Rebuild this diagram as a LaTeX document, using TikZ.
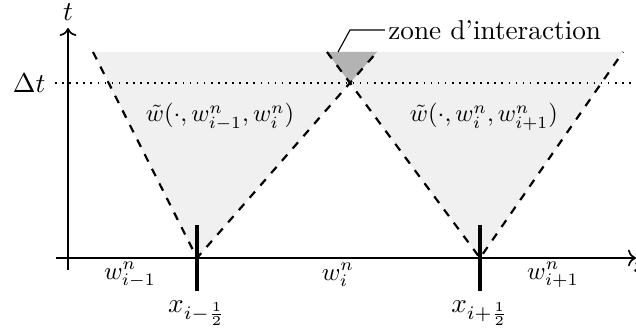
\documentclass[tikz,border=0pt]{standalone}
\usepackage{amsmath,amssymb}
\usetikzlibrary{arrows.meta,positioning,calc}
\definecolor{fanlight}{HTML}{F0F0F0}
\definecolor{zonedark}{HTML}{B3B3B3}
\tikzset{
  axisline/.style={->, semithick},
  charline/.style={dashed, thick},
  ifaceline/.style={very thick},
  levelline/.style={dotted, semithick},
  fanfill/.style={fill=fanlight},
  zonefill/.style={fill=zonedark},
  leader/.style={thin},
  statelab/.style={scale=0.92},
  fanlab/.style={scale=0.9}
}

\begin{document}
\begin{tikzpicture}[x=0.0129cm, y=0.0129cm]
    \useasboundingbox (-68,-78) rectangle (568,258);
    % sommets et bords des eventails
    \coordinate (apexl) at (129,0);
    \coordinate (apexr) at (412,0);
    \coordinate (ll) at (25,206);
    \coordinate (lr) at (309,206);
    \coordinate (rl) at (259,206);
    \coordinate (rr) at (555,206);
    \coordinate (cross) at (intersection of apexl--lr and apexr--rl);
    \fill[fanfill] (ll) -- (apexl) -- (lr) -- cycle;
    \fill[fanfill] (rl) -- (apexr) -- (rr) -- cycle;
    \fill[zonefill] (rl) -- (cross) -- (lr) -- cycle;
    % axes
    \coordinate (xstart) at (-12,0);
    \coordinate (xend) at (568,0);
    \coordinate (tstart) at (0,-12);
    \coordinate (tend) at (0,230);
    \draw[axisline] (xstart) -- (xend);
    \draw[axisline] (tstart) -- (tend);
    \node (tlab) at (0,246) {$t$};
    \node[anchor=west] (xlab) at (556,-9) {$x$};
    % niveau Delta t
    \coordinate (dtstart) at (-13,175);
    \coordinate (dtend) at (568,175);
    \node[anchor=east] (dtlab) at (dtstart) {$\Delta t$};
    \draw[levelline] (dtstart) -- (dtend);
    % droites caracteristiques
    \draw[charline] (ll) -- (apexl) -- (lr);
    \draw[charline] (rl) -- (apexr) -- (rr);
    % interfaces
    \coordinate (ifl top) at (129,33);
    \coordinate (ifl bot) at (129,-33);
    \coordinate (ifr top) at (412,33);
    \coordinate (ifr bot) at (412,-33);
    \draw[ifaceline] (ifl top) -- (ifl bot);
    \draw[ifaceline] (ifr top) -- (ifr bot);
    \node[below=0pt of ifl bot] (xlm) {$x_{i-\frac12}$};
    \node[below=0pt of ifr bot] (xlp) {$x_{i+\frac12}$};
    % etats
    \node[statelab] (wim) at (62,-17) {$w^n_{i-1}$};
    \node[statelab] (wi) at (270,-17) {$w^n_{i}$};
    \node[statelab] (wip) at (485,-17) {$w^n_{i+1}$};
    \node[fanlab] (fanl) at (152,141) {$\tilde w(\cdot,w^n_{i-1},w^n_i)$};
    \node[fanlab] (fanr) at (416,141) {$\tilde w(\cdot,w^n_{i},w^n_{i+1})$};
    % zone d'interaction
    \node[anchor=west, inner sep=1pt] (zone) at (317,228) {zone d'interaction};
    \coordinate (zonefoot) at (270,206);
    \draw[leader] (zonefoot) -- (282,228) -- (zone.west);
\end{tikzpicture}
\end{document}
